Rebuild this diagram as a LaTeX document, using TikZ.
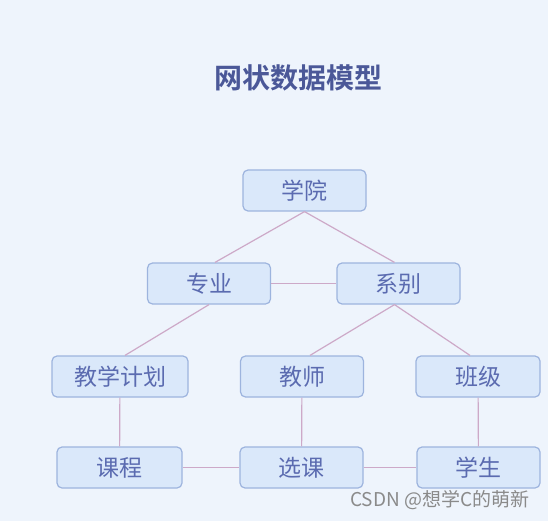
\documentclass[tikz,border=0pt]{standalone}
\usepackage{fontspec}
\newfontfamily\cjk{Noto Sans CJK SC}
\newfontfamily\cjkb{Noto Sans CJK SC Bold}
\definecolor{bg}{HTML}{EEF4FC}
\definecolor{boxfill}{HTML}{DAE8FA}
\definecolor{boxdraw}{HTML}{9DB4DE}
\definecolor{txt}{HTML}{5B6BB0}
\definecolor{ttl}{HTML}{4B5898}
\definecolor{lnk}{HTML}{CDA9C8}
\definecolor{wm}{HTML}{8A8A8A}
\begin{document}
\begin{tikzpicture}[x=1pt,y=-1pt,
  ent/.style={draw=boxdraw, line width=1.2pt, fill=boxfill, rounded corners=5pt,
    minimum width=123pt, minimum height=41pt, inner sep=0pt, font=\cjk\fontsize{23}{23}\selectfont, text=txt},
  lk/.style={draw=lnk, line width=1.2pt}]
\fill[bg] (0,0) rectangle (548,521);
\useasboundingbox (0,0) rectangle (548,521);
\node[font=\cjkb\fontsize{28}{28}\selectfont, text=ttl] (title) at (298,78) {网状数据模型};
\node[ent] (xy) at (304.5,190.5) {学院};
\node[ent] (zy) at (209,283.5) {专业};
\node[ent] (xb) at (398.5,283.5) {系别};
\node[ent, minimum width=136pt] (jh) at (120,376.5) {教学计划};
\node[ent] (js) at (302,376.5) {教师};
\node[ent, minimum width=124pt] (bj) at (478,376.5) {班级};
\node[ent, minimum width=125pt] (kc) at (119.5,467.5) {课程};
\node[ent] (xk) at (301.5,467.5) {选课};
\node[ent] (xs) at (478.5,467.5) {学生};
\draw[lk] (xy.south) -- ([xshift=6pt]zy.north);
\draw[lk] (xy.south) -- ([xshift=-4pt]xb.north);
\draw[lk] (zy) -- (xb);
\draw[lk] (zy.south) -- ([xshift=5pt]jh.north);
\draw[lk] ([xshift=-4pt]xb.south) -- ([xshift=8pt]js.north);
\draw[lk] ([xshift=-4pt]xb.south) -- ([xshift=-8pt]bj.north);
\draw[lk] (jh) -- (kc);
\draw[lk] (js) -- (xk);
\draw[lk] (bj) -- (xs);
\draw[lk] (kc) -- (xk);
\draw[lk] (xk) -- (xs);
\node[font=\cjk\fontsize{19}{19}\selectfont, text=wm, anchor=east] (wmk) at (533,500) {CSDN @想学C的萌新};
\end{tikzpicture}
\end{document}
